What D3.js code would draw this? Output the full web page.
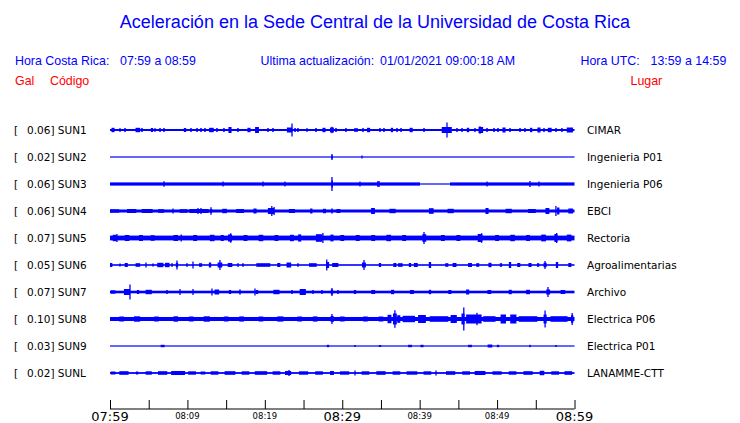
<!DOCTYPE html>
<html><head><meta charset="utf-8">
<script src="https://cdn.jsdelivr.net/npm/d3@7"></script>
<style>body{margin:0;background:#fff}svg{display:block}</style>
</head><body>
<svg id="c" width="740" height="423"></svg>
<script>
// ---- data ----
const codes = ["SUN1","SUN2","SUN3","SUN4","SUN5","SUN6","SUN7","SUN8","SUN9","SUNL"];
const places = ["CIMAR","Ingenieria P01","Ingenieria P06","EBCI","Rectoria","Agroalimentarias","Archivo","Electrica P06","Electrica P01","LANAMME-CTT"];
const gal = ["0.06","0.02","0.06","0.06","0.07","0.05","0.07","0.10","0.03","0.02"];
const tickMinutes = [0,5,10,15,20,25,30,35,40,45,50,55,60];
const tickLabels = {0:"07:59",10:"08:09",20:"08:19",30:"08:29",40:"08:39",50:"08:49",60:"08:59"};
const majorTicks = [0,30,60];
// base envelopes: [t0, t1, amplitude] (minutes after 07:59, relative amplitude)
const sun1Base=[[0,60,0.1]], sun2Base=[[0,60,0.06]], sun3Base=[[0,40.04,0.16],[40.04,43.92,0.05],[43.92,60,0.16]],
      sun4Base=[[0,60,0.15]], sun5Base=[[0,60,0.24]], sun6Base=[[0,60,0.08]], sun7Base=[[0,60,0.13]],
      sun8Base=[[0,60,0.2]], sun9Base=[[0,60,0.06]], sunlBase=[[0,60,0.09]];
// bursts: [t, amplitude, duration in minutes]  (duration 0 = single spike)
const sun1=[[0.39,0.22,0.4],[1.29,0.18,0.2],[1.94,0.2,0.1],[3.6,0.22,0.6],[4.13,0.2,0.1],[5.42,0.2,0.3],[5.81,0.18,0.1],[6.46,0.2,0.1],[6.97,0.2,0.1],[9.69,0.2,0.3],[10.46,0.2,0.1],[11.24,0.2,0.1],[11.75,0.2,0.2],[12.27,0.2,0.1],[13.1,0.22,0.6],[13.82,0.2,0.1],[14.72,0.2,0.1],[15.5,0.3,0.4],[16.53,0.2,0.1],[17.95,0.22,0.4],[18.99,0.3,0.5],[20.41,0.2,0.1],[21.05,0.2,0.1],[23.2,0.25,0.7],[23.51,0.65,0],[23.9,0.2,0.2],[24.28,0.2,0.1],[25.45,0.18,0.1],[26.61,0.2,0.2],[27.64,0.22,0.4],[28.67,0.25,0.5],[28.67,0.32,0],[29.19,0.2,0.1],[30.48,0.2,0.1],[31.65,0.2,0.1],[31.9,0.2,0.1],[32.68,0.2,0.1],[33.4,0.22,0.4],[34.87,0.2,0.1],[35.39,0.2,0.1],[36.42,0.22,0.3],[37.07,0.2,0.1],[37.59,0.2,0.1],[38.9,0.22,0.4],[40.56,0.2,0.1],[43.5,0.3,1.3],[43.53,0.75,0],[44.82,0.2,0.1],[45.47,0.2,0.1],[46.24,0.22,0.3],[47.15,0.2,0.1],[47.9,0.3,0.6],[47.79,0.38,0],[48.7,0.2,0.1],[49.6,0.2,0.2],[50.12,0.2,0.2],[50.89,0.25,0.4],[51.67,0.2,0.1],[52.96,0.2,0.1],[53.6,0.2,0.1],[54.4,0.22,0.3],[55.41,0.25,0.4],[56.06,0.2,0.1],[56.8,0.22,0.5],[57.61,0.2,0.1],[58.38,0.2,0.1],[59.4,0.25,0.8]];
const sun2=[[28.67,0.3,0],[28.7,0.15,0.2],[32.55,0.15,0]];
const sun3=[[6.97,0.28,0],[14.6,0.25,0],[19.76,0.25,0],[22.6,0.25,0],[28.67,0.7,0],[28.7,0.35,0.2],[32.29,0.25,0],[34.6,0.3,0],[34.75,0.3,0],[48.7,0.25,0],[54.25,0.3,0],[55.41,0.25,0]];
const sun4=[[0.6,0.17,1.2],[2.8,0.2,1.2],[4.8,0.2,1.4],[6.6,0.18,0.8],[8.14,0.25,0],[9.5,0.18,1],[11.5,0.2,2.5],[11.37,0.3,0],[11.75,0.3,0],[13.05,0.38,0],[13.05,0.2,0.3],[14.8,0.22,0.6],[16.8,0.2,1],[18.73,0.25,0.4],[20.8,0.3,0.8],[20.9,0.5,0],[21.2,0.4,0],[23.5,0.2,0.8],[26.0,0.25,0.3],[27.7,0.22,0.4],[28.67,0.25,0.2],[29.5,0.2,0.5],[33.97,0.3,0.5],[36.5,0.22,0.8],[41.5,0.28,0.6],[44,0.22,0.8],[48.7,0.3,0.4],[51.5,0.22,0.8],[54.5,0.2,1],[56.5,0.3,0.5],[57.6,0.5,0],[57.9,0.35,0.3],[59.5,0.25,0.6]];
const sun5=[[0.6,0.32,0.5],[0.9,0.4,0],[2.2,0.3,0.6],[4,0.3,0.5],[5.5,0.28,0.5],[8.5,0.3,0.6],[9.2,0.35,0],[11,0.3,0.5],[13.2,0.32,0.6],[14.5,0.3,0.4],[15.5,0.36,0.5],[15.6,0.48,0],[17.5,0.3,0.5],[19.5,0.32,0.6],[21.5,0.3,0.5],[23.5,0.32,0.5],[24.5,0.36,0.4],[27,0.38,0.8],[27.5,0.5,0],[28.67,0.34,0.4],[30,0.3,0.5],[32,0.3,0.5],[34,0.3,0.5],[36,0.32,0.6],[38,0.3,0.5],[40.56,0.6,0],[40.6,0.38,0.5],[43,0.3,0.5],[45,0.3,0.5],[47.8,0.4,0.6],[48,0.48,0],[50,0.3,0.5],[52,0.32,0.6],[54,0.3,0.5],[56,0.34,0.6],[57.6,0.4,0.4],[57.7,0.5,0],[59.3,0.34,0.6]];
const sun6=[[0.13,0.2,0.3],[1.29,0.15,0.1],[2.1,0.2,0.4],[3.6,0.18,0.6],[4.65,0.25,0],[5.55,0.15,0.1],[6.5,0.22,0.8],[7.4,0.22,0.6],[8.01,0.18,0.1],[8.65,0.45,0],[8.65,0.22,0.3],[9.95,0.18,0.1],[10.72,0.35,0],[11.7,0.18,0.4],[12.92,0.25,0.3],[14.2,0.5,0],[14.2,0.25,0.6],[15.5,0.2,0.6],[16.53,0.18,0.1],[17.18,0.18,0.1],[19.8,0.18,1.8],[21.8,0.2,0.4],[23.1,0.25,0.6],[24.28,0.18,0.1],[26.2,0.18,1.0],[28.0,0.55,0],[28.1,0.3,0.4],[29.1,0.2,0.8],[32.81,0.5,0],[32.8,0.25,0.5],[34.87,0.2,0.3],[36.8,0.2,0.4],[37.5,0.18,0.6],[38.75,0.2,0.3],[39.5,0.2,0.5],[41.33,0.3,0.3],[43.5,0.18,0.4],[44.5,0.2,0.5],[46.5,0.2,0.5],[47.5,0.18,0.4],[49.08,0.22,0.4],[50.5,0.18,0.3],[51.67,0.3,0.3],[52.8,0.2,0.4],[54.25,0.2,0.4],[55.3,0.18,0.3],[56.19,0.4,0],[56.2,0.22,0.4],[57.74,0.3,0.3],[59.4,0.2,0.4]];
const sun7=[[0.4,0.17,0.6],[2.2,0.3,0.8],[2.58,0.75,0],[3.62,0.2,0.3],[5.0,0.22,0.8],[7.36,0.2,0.2],[9.04,0.3,0],[10.72,0.3,0],[13.17,0.35,0],[13.8,0.25,0.6],[15.5,0.2,0.3],[16.79,0.25,0.2],[18.73,0.35,0],[18.99,0.2,0.3],[21.5,0.22,0.8],[23.51,0.2,0.2],[24.9,0.3,0.8],[26.22,0.2,0.1],[27.38,0.2,0.1],[28.67,0.4,0],[28.67,0.25,0.3],[29.45,0.2,0.1],[31.65,0.2,0.3],[34,0.2,0.5],[36.5,0.22,0.4],[39,0.2,0.5],[41.33,0.22,0.3],[43.9,0.2,0.4],[46.2,0.25,0.4],[49,0.2,0.5],[51.7,0.22,0.4],[54,0.22,0.5],[56.57,0.5,0],[56.6,0.25,0.5],[58.5,0.2,0.6]];
const sun8=[[1.5,0.25,0.6],[3.5,0.27,0.8],[6,0.25,0.6],[8.5,0.27,0.6],[10.5,0.25,0.6],[12.5,0.27,0.8],[15,0.25,0.6],[17,0.26,0.6],[19.5,0.25,0.6],[22,0.26,0.8],[24.5,0.25,0.6],[26.5,0.26,0.6],[28.67,0.5,0],[28.7,0.3,0.4],[30,0.25,0.6],[33,0.25,0.6],[35,0.25,0.6],[36.1,0.42,0.5],[36.8,0.55,0.5],[36.8,0.88,0],[37.3,0.38,0.4],[38.6,0.32,1.6],[40.3,0.4,1],[42.5,0.28,2.4],[44.4,0.4,0.8],[45.6,0.55,0.4],[45.7,1.15,0],[47,0.45,2],[47.4,0.62,0],[49,0.28,1.6],[50.8,0.45,0.7],[52.1,0.45,0.8],[54,0.28,2.4],[56.2,0.45,0.4],[56.2,0.85,0],[58,0.28,2.2],[59.7,0.38,0.3],[59.7,0.6,0]];
const sun9=[[6.8,0.12,0.5],[28.16,0.12,0.3],[31.65,0.1,0.2],[34.87,0.1,0.3],[38.75,0.12,0.5],[40.3,0.12,0.4],[46.5,0.12,0.5],[49.08,0.15,0.6],[50.12,0.12,0.3],[54.25,0.12,0.2],[57.6,0.1,0.2]];
const sunl=[[0.4,0.15,0.6],[1.8,0.18,1.2],[3.5,0.15,0.3],[5.0,0.17,0.8],[6.8,0.18,1.2],[8.8,0.2,1.8],[10.6,0.17,1.0],[12,0.15,0.6],[13.5,0.17,1],[15.5,0.18,1.4],[17.5,0.17,1],[19.5,0.18,1.6],[21.5,0.17,1],[23.12,0.3,0],[23,0.2,0.8],[25,0.17,1.2],[27,0.17,1],[28.67,0.2,0.5],[30.3,0.17,1.2],[31.65,0.25,0],[33,0.17,1],[35,0.18,1.2],[37,0.17,1],[39,0.17,1.4],[41,0.17,1],[42.11,0.25,0],[44,0.18,1.2],[46,0.17,1],[47.8,0.2,1.4],[50,0.17,1.2],[52,0.17,1],[54,0.18,1.2],[55.8,0.22,0.6],[57.5,0.17,1],[59.2,0.18,1]];
const bases=[sun1Base,sun2Base,sun3Base,sun4Base,sun5Base,sun6Base,sun7Base,sun8Base,sun9Base,sunlBase];
const bursts=[sun1,sun2,sun3,sun4,sun5,sun6,sun7,sun8,sun9,sunl];

// ---- drawing ----
const svg=d3.select("#c");
const BLUE="#0000ff", RED="#ff0000";
const x=d3.scaleLinear().domain([0,60]).range([110,574.5]);
const row=d3.scaleBand().domain(codes).range([116.5,386.5]);
const amp=d3.scaleLinear().domain([0,1]).range([0,10]);
const sans="'Liberation Sans', Arial, sans-serif", dj="'DejaVu Sans', sans-serif";

svg.append("text").attr("x",375).attr("y",28).attr("text-anchor","middle").attr("fill",BLUE)
  .style("font-family",sans).style("font-size","18px").text("Aceleración en la Sede Central de la Universidad de Costa Rica");
const hdr=[[15,65,"Hora Costa Rica:",BLUE],[120,65,"07:59 a 08:59",BLUE],[260.5,65,"Ultima actualización:",BLUE],[380,65,"01/01/2021 09:00:18 AM",BLUE],[580.5,65,"Hora UTC:",BLUE],[650.5,65,"13:59 a 14:59",BLUE],[15,85,"Gal",RED],[50,85,"Código",RED],[630.5,85,"Lugar",RED]];
svg.selectAll("text.h").data(hdr).join("text").attr("class","h").attr("x",d=>d[0]).attr("y",d=>d[1]).attr("fill",d=>d[3])
  .style("font-family",sans).style("font-size","12.4px").text(d=>d[2]);

codes.forEach((c,i)=>{
  const cy=row(c)+row.bandwidth()/2;
  const g=svg.append("g");
  g.append("text").attr("x",14).attr("y",cy+4).style("font-family",dj).style("font-size","10.5px").text("[");
  g.append("text").attr("x",27).attr("y",cy+4).style("font-family",dj).style("font-size","10.5px").text(gal[i]+"] "+c);
  g.append("text").attr("x",587).attr("y",cy+4).style("font-family",dj).style("font-size","10.5px").text(places[i]);
  g.selectAll("rect.b").data(bases[i]).join("rect").attr("class","b")
    .attr("x",d=>x(d[0])).attr("width",d=>x(d[1])-x(d[0]))
    .attr("y",d=>cy-Math.max(0.6,amp(d[2]))).attr("height",d=>2*Math.max(0.6,amp(d[2]))).attr("fill",BLUE);
  g.selectAll("rect.s").data(bursts[i]).join("rect").attr("class","s")
    .attr("x",d=>{const w=d[2]===0?1.3:Math.max(1.5,x(d[2])-x(0));return Math.max(110,x(d[0])-w/2);})
    .attr("width",d=>d[2]===0?1.3:Math.max(1.5,x(d[2])-x(0)))
    .attr("y",d=>cy-amp(d[1])).attr("height",d=>2*amp(d[1])).attr("fill",BLUE);
});

// axis
const ax=svg.append("g").attr("transform","translate(0,409)");
ax.call(d3.axisTop(x).tickValues(tickMinutes).tickSize(9).tickFormat(""));
ax.select(".domain").attr("d","M110,0H574.5").attr("stroke","#000");
ax.selectAll(".tick line").attr("stroke","#000");
svg.selectAll("text.tl").data(tickMinutes.filter(m=>tickLabels[m])).join("text").attr("class","tl")
  .attr("x",m=>x(m)).attr("y",m=>majorTicks.includes(m)?420.5:418.5).attr("text-anchor","middle")
  .style("font-family",dj).style("font-size",m=>majorTicks.includes(m)?"13px":"8.5px").text(m=>tickLabels[m]);
</script>
</body></html>
